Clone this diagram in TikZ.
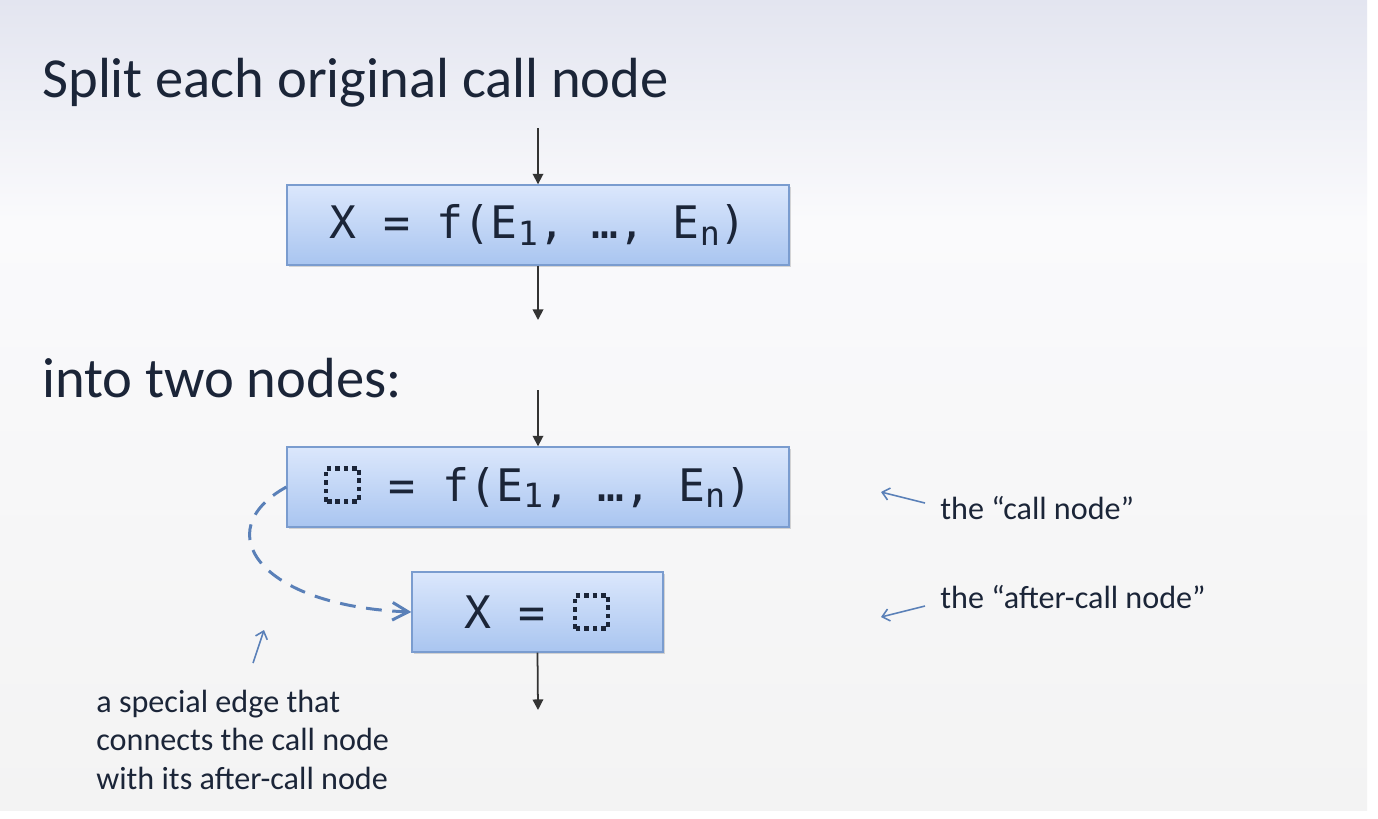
\documentclass[tikz,border=0pt]{standalone}
\usepackage{fontspec}
\setmainfont{Carlito}
\newfontfamily\codefont{DejaVu Sans Mono}
\usetikzlibrary{arrows.meta, positioning, shadows}

\definecolor{bgtop}{HTML}{E3E5F0}
\definecolor{bgmid}{HTML}{FAFAFC}
\definecolor{bgbot}{HTML}{F3F3F3}
\definecolor{boxtop}{HTML}{DBE7FC}
\definecolor{boxbot}{HTML}{A9C5F0}
\definecolor{boxline}{HTML}{7A9CCF}
\definecolor{inkdark}{HTML}{1B2538}
\definecolor{noteblue}{HTML}{5A80B8}

% dotted placeholder for the missing value
\newcommand{\hole}{\tikz[baseline=0pt]\draw[inkdark, line width=2.6pt, dash pattern=on 2.6pt off 2.2pt] (0,0) rectangle (0.66cm,0.66cm);}
\newcommand{\sub}[1]{\raisebox{-0.25ex}{\fontsize{19}{20}\selectfont #1}}

\begin{document}
\begin{tikzpicture}[x=0.02cm, y=-0.02cm,
    callbox/.style={draw=boxline, line width=0.8pt, top color=boxtop, bottom color=boxbot, minimum height=1.6cm, text=inkdark,
      font=\codefont\fontsize{25.5}{30}\selectfont, drop shadow={shadow xshift=1.2pt, shadow yshift=-1.2pt, opacity=0.25, fill=black!60}},
    heading/.style={anchor=base west, inner sep=0pt, text=inkdark, font=\fontsize{32.2}{38}\selectfont},
    note/.style={anchor=base west, inner sep=0pt, text=inkdark, align=left, font=\fontsize{18.3}{21.9}\selectfont},
    flow/.style={draw=black!80, line width=1pt, -{Triangle[length=6pt, width=6pt]}},
    note arrow/.style={draw=noteblue, line width=0.9pt, -{Straight Barb[length=4pt, width=7pt]}}]
  % slide background
  \useasboundingbox (0,0) rectangle (1378,818);
  \fill[white] (0,0) rectangle (1378,818);
  \shade[top color=bgtop, bottom color=bgmid] (0,0) rectangle (1367,220);
  \shade[top color=bgmid, bottom color=bgbot] (0,220) rectangle (1367,810);

  \node[heading] (title) at (42,97) {Split each original call node};
  \node[heading] (subtitle) at (42,397) {into two nodes:};

  % original call node
  \node[callbox, minimum width=10.04cm] (callorig) at (538,225) {X = f(E\sub{1}, …, E\sub{n})};
  \coordinate (in1) at (538,128);
  \coordinate (out1) at (538,320);
  \draw[flow] (in1) -- (callorig.north);
  \draw[flow] (callorig.south) -- (out1);

  % split version
  \node[callbox, minimum width=10.04cm] (callnode) at (538,487) {\hole{} = f(E\sub{1}, …, E\sub{n})};
  \node[callbox, minimum width=5.02cm] (aftercall) at (537.5,612) {X = \hole};
  \coordinate (in2) at (538,390);
  \coordinate (out3) at (538,710);
  \draw[flow] (in2) -- (callnode.north);
  \draw[flow] (aftercall.south) -- (out3);
  \draw[noteblue, line width=1.7pt, dash pattern=on 9pt off 6pt, -{Straight Barb[length=9pt, width=10pt]}]
    (callnode.west) .. controls (207,531) and (260,606) .. (aftercall.west);

  % annotations
  \node[note] (calllabel) at (940,519) {the “call node”};
  \node[note] (afterlabel) at (940,608) {the “after-call node”};
  \node[note] (edgelabel) at (96,789) {a special edge that\\connects the call node\\with its after-call node};
  \coordinate (calltail) at (925,503);
  \coordinate (calltip) at (881,492);
  \coordinate (aftertail) at (925,606);
  \coordinate (aftertip) at (881,617);
  \coordinate (edgetail) at (253,663);
  \coordinate (edgetip) at (264,630);
  \draw[note arrow] (calltail) -- (calltip);
  \draw[note arrow] (aftertail) -- (aftertip);
  \draw[note arrow] (edgetail) -- (edgetip);
\end{tikzpicture}
\end{document}
